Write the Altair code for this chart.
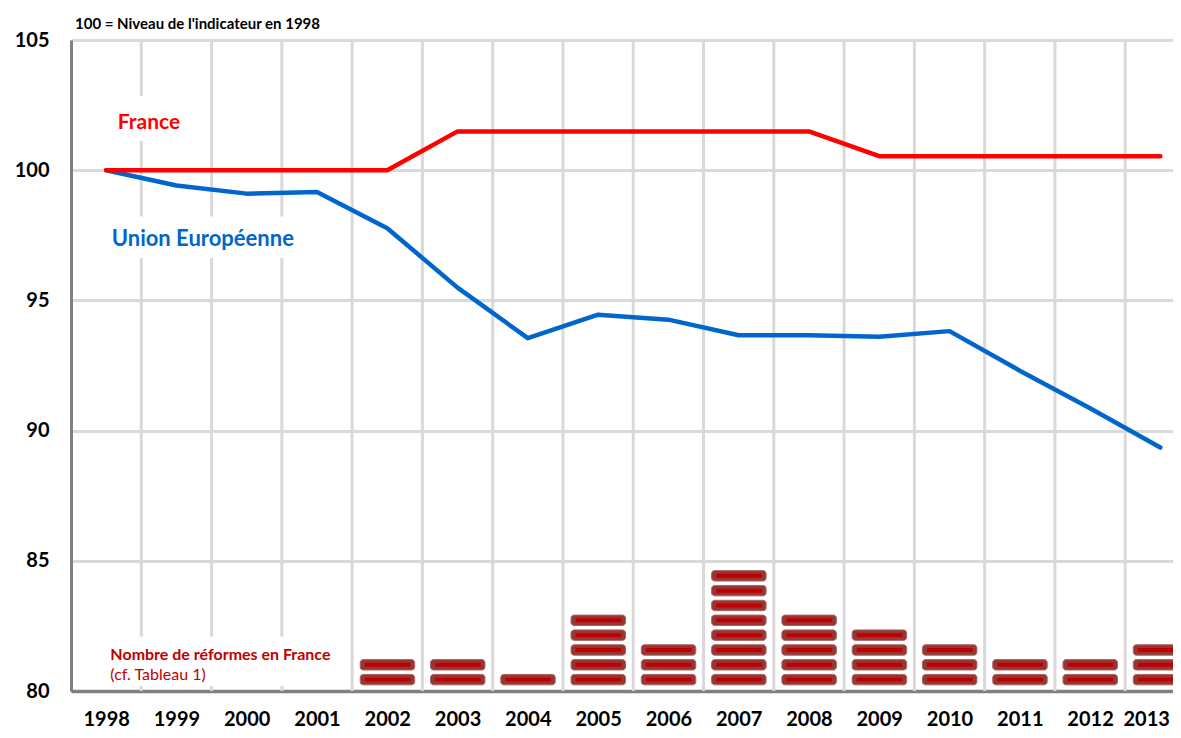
import altair as alt
import pandas as pd

# ---- data ----
years = list(range(1998, 2014))
france = [100, 100, 100, 100, 100, 101.49, 101.49, 101.49, 101.49, 101.49,
          101.49, 100.54, 100.54, 100.54, 100.54, 100.54]
ue = [100, 99.41, 99.10, 99.16, 97.77, 95.49, 93.55, 94.45, 94.26, 93.66,
      93.66, 93.60, 93.82, 92.30, 90.86, 89.35]
reformes = [0, 0, 0, 0, 2, 2, 1, 5, 3, 8, 5, 4, 3, 2, 2, 3]
y_ticks = [80, 85, 90, 95, 100, 105]

FONT = "Lato"

df_lines = pd.DataFrame({"year": years, "france": france, "ue": ue})
df_grid = pd.DataFrame({"b": [y + 0.5 for y in years]})

# stacked reform blocks, derived from counts
STEP = 0.5695
BASE = 0.4366
BH = 0.2
SH = 0.076
rows = []
for y, n in zip(years, reformes):
    for k in range(n):
        c = 80 + BASE + k * STEP
        rows.append({"year": y, "x1": y - 0.385, "x2": y + 0.39,
                     "sx1": y - 0.32, "sx2": y + 0.33,
                     "y1": c - BH, "y2": c + BH, "s1": c - SH, "s2": c + SH})
df_blocks = pd.DataFrame(rows)

# white boxes behind the annotation texts
df_boxes = pd.DataFrame({
    "x1": [1997.92, 1997.92, 1997.53],
    "x2": [1999.3, 2000.75, 2001.46],
    "y1": [101.13, 96.63, 80.19],
    "y2": [102.85, 98.22, 82.09],
})

xs = alt.Scale(domain=[1997.5, 2013.18], nice=False, zero=False)
ys = alt.Scale(domain=[80, 105], nice=False, zero=False)

x_axis = alt.Axis(values=years, format="d", grid=False, ticks=False,
                  domainColor="#808080", domainWidth=3.5,
                  labelFont=FONT, labelFontSize=20, labelFontWeight="bold",
                  labelColor="black", labelPadding=28, labelBaseline="middle",
                  labelFlush=20, labelFlushOffset=9, labelOverlap=False,
                  title=None)
y_axis = alt.Axis(values=y_ticks, grid=True, gridColor="#d9d9d9", gridWidth=3,
                  ticks=False, domainColor="#808080", domainWidth=3,
                  labelFont=FONT, labelFontSize=20, labelFontWeight="bold",
                  labelColor="black", labelPadding=22, title=None)

base = alt.Chart(df_lines)

vgrid = alt.Chart(df_grid).mark_rule(color="#d9d9d9", strokeWidth=3, clip=True).encode(
    x=alt.X("b:Q", scale=xs, axis=x_axis))

boxes = alt.Chart(df_boxes).mark_rect(color="white").encode(
    x=alt.X("x1:Q", scale=xs), x2="x2:Q",
    y=alt.Y("y1:Q", scale=ys, axis=y_axis), y2="y2:Q")

blocks = alt.Chart(df_blocks).mark_rect(
    color="#953735", stroke="#a86562", strokeWidth=1, cornerRadius=3,
    clip=True).encode(
    x=alt.X("x1:Q", scale=xs), x2="x2:Q",
    y=alt.Y("y1:Q", scale=ys), y2="y2:Q")

stripes = alt.Chart(df_blocks).mark_rect(color="#c00000", clip=True).encode(
    x=alt.X("sx1:Q", scale=xs), x2="sx2:Q",
    y=alt.Y("s1:Q", scale=ys), y2="s2:Q")

ue_line = base.mark_line(color="#0066cc", strokeWidth=4.5, strokeCap="round",
                         strokeJoin="round").encode(
    x=alt.X("year:Q", scale=xs), y=alt.Y("ue:Q", scale=ys))
fr_line = base.mark_line(color="#ff0000", strokeWidth=4.5, strokeCap="round",
                         strokeJoin="round").encode(
    x=alt.X("year:Q", scale=xs), y=alt.Y("france:Q", scale=ys))

df_labels = pd.DataFrame({
    "x": [1998.61, 1998.08, 1998.06, 1998.06],
    "y": [101.82, 97.36, 81.38, 80.60],
    "t": ["France", "Union Européenne", "Nombre de réformes en France",
          "(cf. Tableau 1)"],
})


def label(i, color, size, weight, align):
    return alt.Chart(df_labels.iloc[[i]]).mark_text(
        color=color, font=FONT, fontSize=size, fontWeight=weight,
        align=align, baseline="middle").encode(
        x=alt.X("x:Q", scale=xs), y=alt.Y("y:Q", scale=ys), text="t:N")


texts = [
    label(0, "#ff0000", 21, "bold", "center"),
    label(1, "#0066cc", 22, "bold", "left"),
    label(2, "#c00000", 16, "bold", "left"),
    label(3, "#c00000", 16, "normal", "left"),
]

df_sub = pd.DataFrame({"t": ["100 = Niveau de l'indicateur en 1998"]})
subtitle = alt.Chart(df_sub).mark_text(
    font=FONT, fontSize=15, fontWeight="bold", color="black",
    align="left", baseline="alphabetic").encode(
    x=alt.value(4), y=alt.value(-11), text="t:N")

chart = alt.layer(vgrid, boxes, blocks, stripes, ue_line, fr_line, *texts,
                  subtitle).properties(
    width=1102, height=651,
    autosize=alt.AutoSizeParams(type="none"),
    padding={"left": 63, "top": 32, "right": 0, "bottom": 37},
).configure_view(stroke=None).configure(background="white")

chart.save("out.html", embed_options={"renderer": "svg", "actions": False})
